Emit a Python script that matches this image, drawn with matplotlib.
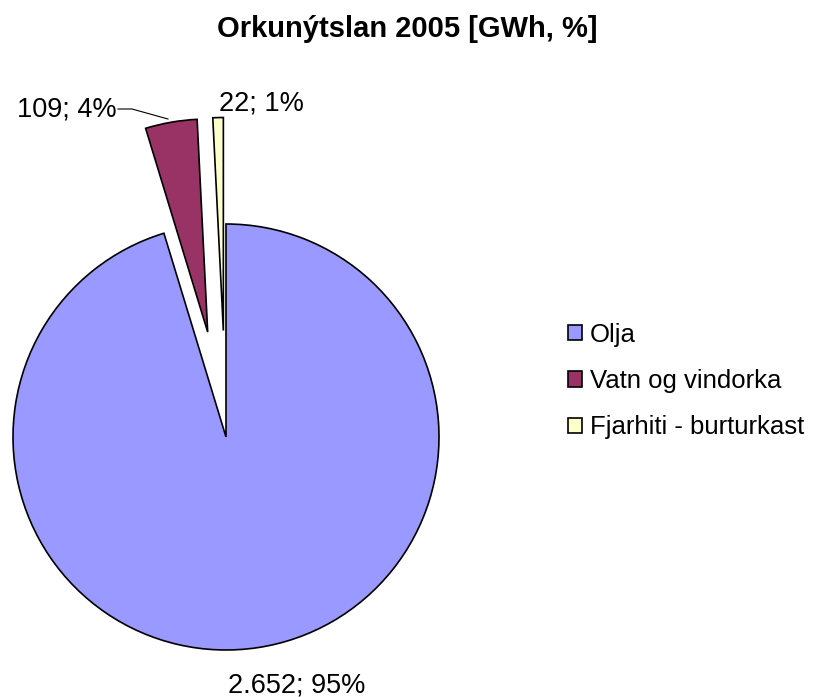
import matplotlib
matplotlib.use('Agg')
import matplotlib.pyplot as plt

plt.rcParams['font.family'] = ['Liberation Sans', 'DejaVu Sans']

categories = ['Olja', 'Vatn og vindorka', 'Fjarhiti - burturkast']
values = [2652, 109, 22]
value_labels = ['2.652; 95%', '109; 4%', '22; 1%']
colors = ['#9999FF', '#993366', '#FFFFCC']
explode = [0, 0.5, 0.5]

W, H = 814, 697
cx, cy, r = 226, 437, 213  # pie centre and radius in pixels

fig = plt.figure(figsize=(W / 100, H / 100), dpi=100)
ax = fig.add_axes([0, 0, 1, 1])

wedges, _ = ax.pie(values, colors=colors, explode=explode, startangle=90,
                   counterclock=False, radius=1,
                   wedgeprops=dict(edgecolor='black', linewidth=1.2))
ax.set_aspect('auto')
ax.set_xlim(-cx / r, (W - cx) / r)
ax.set_ylim((cy - H) / r, cy / r)
ax.axis('off')

def px(x, y):
    return ((x - cx) / r, (cy - y) / r)

fs = 19.5
ax.text(*px(297, 692), value_labels[0], ha='center', va='baseline', fontsize=fs)
ax.text(*px(117, 117), value_labels[1], ha='right', va='baseline', fontsize=fs)
ax.text(*px(219, 110), value_labels[2], ha='left', va='baseline', fontsize=fs)
ax.plot(*zip(px(118, 109), px(132, 109), px(168, 119)), color='black', lw=0.8)

fig.text(407 / W, 1 - 37 / H, 'Orkunýtslan 2005 [GWh, %]', ha='center', va='baseline',
         fontsize=21, fontweight='bold')

fig.legend(wedges, categories, loc='center left', bbox_to_anchor=(568 / W, 1 - 381 / H),
           frameon=False, fontsize=18.5, handlelength=0.55, handleheight=0.55,
           handletextpad=0.3, labelspacing=0.87, borderpad=0, borderaxespad=0)

fig.savefig('out.png', dpi=100)
